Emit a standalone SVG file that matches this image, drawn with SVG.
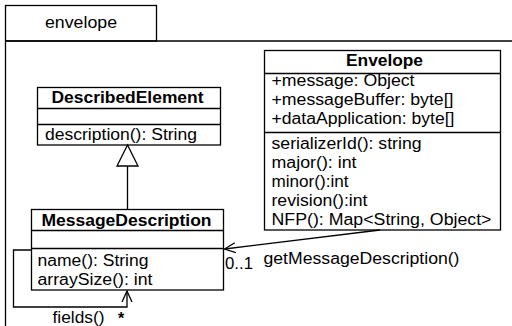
<svg xmlns="http://www.w3.org/2000/svg" width="512" height="326" viewBox="0 0 512 326">
<defs>
<style>
.box{fill:#fff;stroke:#000;stroke-width:1.3}
.ln{fill:none;stroke:#000;stroke-width:1.3}
text{font-family:"Liberation Sans",Arial,sans-serif;font-size:16px;fill:#000}
.b{font-weight:bold}
</style>
<marker id="open" viewBox="0 0 12 12" refX="11" refY="6" markerWidth="12" markerHeight="12" markerUnits="userSpaceOnUse" orient="auto">
<path d="M0,1 L11,6 L0,11" fill="none" stroke="#000" stroke-width="1.3"/>
</marker>
</defs>
<rect width="512" height="326" fill="#fff"/>
<g id="package">
<rect class="box" x="5.5" y="5.5" width="151" height="35.5"/>
<text x="45" y="27.5" textLength="72" lengthAdjust="spacingAndGlyphs">envelope</text>
<path class="ln" d="M5.5,41 H512 M5.5,41 V326"/>
</g>
<g id="DescribedElement">
<rect class="box" x="37.5" y="87.5" width="183" height="57.5"/>
<path class="ln" d="M37.5,108.5 H220.5 M37.5,124.5 H220.5"/>
<text class="b" x="51.5" y="103" textLength="152" lengthAdjust="spacingAndGlyphs">DescribedElement</text>
<text x="45" y="139.5" textLength="152" lengthAdjust="spacingAndGlyphs">description(): String</text>
</g>
<g id="MessageDescription">
<rect class="box" x="31.5" y="209.5" width="192" height="80.5"/>
<path class="ln" d="M31.5,230.5 H223.5 M31.5,248.5 H223.5"/>
<text class="b" x="41.5" y="226" textLength="170" lengthAdjust="spacingAndGlyphs">MessageDescription</text>
<text x="37.5" y="266" textLength="111" lengthAdjust="spacingAndGlyphs">name(): String</text>
<text x="37.5" y="285" textLength="115" lengthAdjust="spacingAndGlyphs">arraySize(): int</text>
</g>
<g id="Envelope">
<rect class="box" x="264.5" y="50.5" width="236" height="179.5"/>
<path class="ln" d="M264.5,73.5 H500.5 M264.5,132.5 H500.5"/>
<text class="b" x="346" y="66" textLength="77" lengthAdjust="spacingAndGlyphs">Envelope</text>
<text x="271.5" y="85.5" textLength="143" lengthAdjust="spacingAndGlyphs">+message: Object</text>
<text x="271.5" y="104.5" textLength="182" lengthAdjust="spacingAndGlyphs">+messageBuffer: byte[]</text>
<text x="271.5" y="123.5" textLength="183" lengthAdjust="spacingAndGlyphs">+dataApplication: byte[]</text>
<text x="271.5" y="148.5" textLength="150" lengthAdjust="spacingAndGlyphs">serializerId(): string</text>
<text x="271.5" y="167.5" textLength="85" lengthAdjust="spacingAndGlyphs">major(): int</text>
<text x="271.5" y="186.5" textLength="77" lengthAdjust="spacingAndGlyphs">minor():int</text>
<text x="271.5" y="205.5" textLength="96" lengthAdjust="spacingAndGlyphs">revision():int</text>
<text x="271.5" y="225" textLength="220" lengthAdjust="spacingAndGlyphs">NFP(): Map&lt;String, Object&gt;</text>
</g>
<g id="connectors">
<path class="ln" d="M127.5,166 V209.5"/>
<path class="box" d="M127.5,145 L117,166 H138 Z"/>
<path class="ln" d="M31.5,250 H13.5 V307 H127 V291" marker-end="url(#open)"/>
<text x="52.5" y="323" textLength="52" lengthAdjust="spacingAndGlyphs">fields()</text>
<text x="118" y="324" class="b">*</text>
<path class="ln" d="M380,230 L224.5,249" marker-end="url(#open)"/>
<text x="225" y="268.5" textLength="28" lengthAdjust="spacingAndGlyphs">0..1</text>
<text x="263.5" y="264" textLength="196" lengthAdjust="spacingAndGlyphs">getMessageDescription()</text>
</g>
</svg>
